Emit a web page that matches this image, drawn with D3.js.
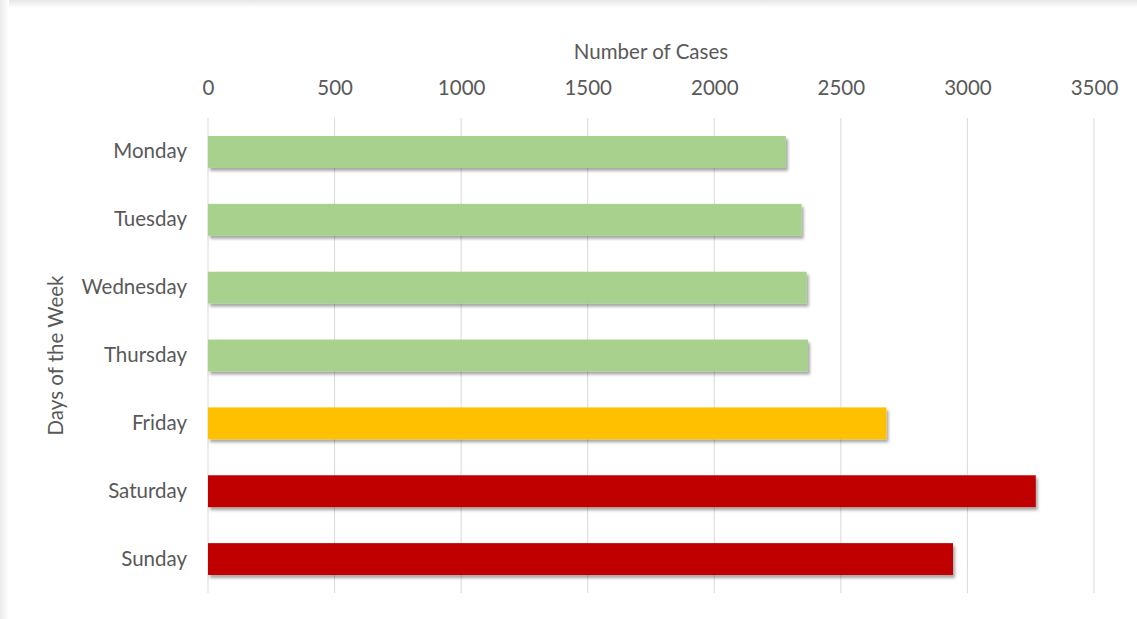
<!DOCTYPE html>
<html>
<head>
<meta charset="utf-8">
<script src="https://cdn.jsdelivr.net/npm/d3@7"></script>
<style>
  html, body { margin: 0; padding: 0; background: #fff; }
  svg { display: block; }
  text { font-family: Lato, "Open Sans", sans-serif; fill: #595959; }
</style>
</head>
<body>
<svg id="chart" width="1137" height="619"></svg>
<script>
// Cases per day of the week
const days = ["Monday", "Tuesday", "Wednesday", "Thursday", "Friday", "Saturday", "Sunday"];
const cases = [2283, 2345, 2365, 2370, 2680, 3270, 2943];
const barColors = ["#A9D18E", "#A9D18E", "#A9D18E", "#A9D18E", "#FFC000", "#C00000", "#C00000"];
const xTicks = [0, 500, 1000, 1500, 2000, 2500, 3000, 3500];

const svg = d3.select("#chart");
const W = 1137, H = 619;
const fontSize = "20.5px";

const defs = svg.append("defs");
// soft frame around the chart area
const gTop = defs.append("linearGradient").attr("id", "frameTop").attr("x1", 0).attr("y1", 0).attr("x2", 0).attr("y2", 1);
gTop.append("stop").attr("offset", "0%").attr("stop-color", "#e6e6e6");
gTop.append("stop").attr("offset", "100%").attr("stop-color", "#ffffff");
const gLeft = defs.append("linearGradient").attr("id", "frameLeft").attr("x1", 0).attr("y1", 0).attr("x2", 1).attr("y2", 0);
gLeft.append("stop").attr("offset", "0%").attr("stop-color", "#ececec");
gLeft.append("stop").attr("offset", "100%").attr("stop-color", "#ffffff");

const shadow = defs.append("filter").attr("id", "barShadow")
  .attr("x", "-5%").attr("y", "-30%").attr("width", "115%").attr("height", "170%");
shadow.append("feDropShadow").attr("dx", 2).attr("dy", 3).attr("stdDeviation", 1.8)
  .attr("flood-color", "#000").attr("flood-opacity", 0.35);

svg.append("rect").attr("x", 0).attr("y", 0).attr("width", W).attr("height", 8).attr("fill", "url(#frameTop)");
svg.append("rect").attr("x", 0).attr("y", 0).attr("width", 9).attr("height", H).attr("fill", "url(#frameLeft)");

const x = d3.scaleLinear().domain([0, 3500]).range([208, 1094]);
const y = d3.scaleBand().domain(days).range([118, 593]).paddingInner(0.53).paddingOuter(0.265);

// vertical gridlines
svg.append("g").selectAll("line").data(xTicks).join("line")
  .attr("x1", d => x(d)).attr("x2", d => x(d))
  .attr("y1", 118).attr("y2", 593)
  .attr("stroke", "#d9d9d9").attr("stroke-width", 1);

// top axis labels
const xAxis = d3.axisTop(x).tickValues(xTicks).tickSize(0).tickPadding(0).tickFormat(d3.format("d"));
const gx = svg.append("g").attr("transform", "translate(0,95)").call(xAxis);
gx.select(".domain").remove();
gx.selectAll("text").style("font-size", fontSize).attr("fill", "#595959")
  .style("font-family", "Lato, 'Open Sans', sans-serif");

svg.append("text").attr("x", x(1750)).attr("y", 59).attr("text-anchor", "middle")
  .style("font-size", fontSize).text("Number of Cases");

// day labels
const yAxis = d3.axisLeft(y).tickSize(0).tickPadding(0);
const gy = svg.append("g").attr("transform", "translate(187,0)").call(yAxis);
gy.select(".domain").remove();
gy.selectAll("text").style("font-size", fontSize).attr("fill", "#595959")
  .style("font-family", "Lato, 'Open Sans', sans-serif");

svg.append("text")
  .attr("transform", `translate(63,${(118 + 593) / 2}) rotate(-90)`)
  .attr("text-anchor", "middle").style("font-size", fontSize).text("Days of the Week");

// bars
svg.append("g").selectAll("rect").data(days).join("rect")
  .attr("x", x(0))
  .attr("y", d => y(d))
  .attr("width", (d, i) => x(cases[i]) - x(0))
  .attr("height", y.bandwidth())
  .attr("fill", (d, i) => barColors[i])
  .attr("filter", "url(#barShadow)");
</script>
</body>
</html>
